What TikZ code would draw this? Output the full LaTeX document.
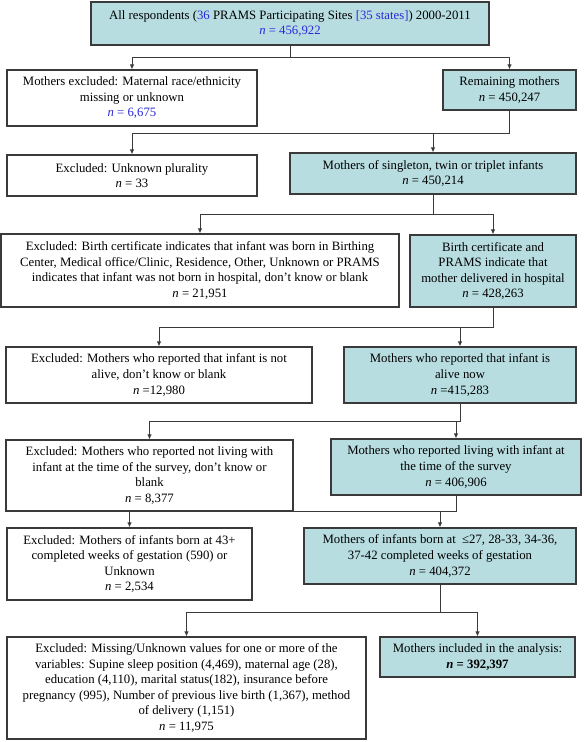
\documentclass[tikz,border=0pt]{standalone}
\usepackage{fontspec}
\setmainfont{Liberation Serif}
\usetikzlibrary{arrows.meta,calc}
\definecolor{keepteal}{HTML}{B7DDE1}
\definecolor{edgegray}{HTML}{3A3A3A}
\definecolor{siteblue}{HTML}{2A2AD8}
\tikzset{
  >=Latex,
  box/.style={
    rectangle, draw=edgegray, line width=1.1bp, inner sep=2bp,
    align=center, text=black,
    font=\fontsize{12.8}{15.6}\selectfont
  },
  keep/.style={box, fill=keepteal},
  link/.style={line width=1bp, draw=edgegray},
  arrow/.style={link, -{Latex[length=5bp,width=4.5bp]}}
}
\newcommand{\nn}{\textit{n}}
% one step of the flow: drop from #1, then split to #3 and #4
\newcommand{\branch}[4]{
  \coordinate (#1-j) at ($(#1.south)+(0,#2)$);
  \draw[link] (#1.south) -- (#1-j);
  \draw[arrow] (#1-j) -| (#3);
  \draw[arrow] (#1-j) -| (#4);
}

\begin{document}
\begin{tikzpicture}[x=1bp,y=-1bp]
\useasboundingbox (0,0) rectangle (584,742);
\node[keep, minimum width=398bp, minimum height=43bp] (all) at (290,23.5)
  {All respondents (\textcolor{siteblue}{36} PRAMS Participating Sites \textcolor{siteblue}{[35 states]}) 2000-2011\\
   \textcolor{siteblue}{\nn{} = 456,922}};
\node[box, minimum width=250bp, minimum height=56bp] (exrace) at (132,98)
  {Mothers excluded: Maternal race/ethnicity\\missing or unknown\\\textcolor{siteblue}{\nn{} = 6,675}};
\node[keep, minimum width=133bp, minimum height=40bp] (remain) at (509.5,90)
  {Remaining mothers\\\nn{} = 450,247};
\node[box, minimum width=250bp, minimum height=41bp] (explur) at (132,175.5)
  {Excluded: Unknown plurality\\\nn{} = 33};
\node[keep, minimum width=286bp, minimum height=41bp] (single) at (433,173.5)
  {Mothers of singleton, twin or triplet infants\\\nn{} = 450,214};
\node[box, minimum width=398bp, minimum height=73bp] (exbirth) at (200,270.5)
  {Excluded: Birth certificate indicates that infant was born in Birthing\\
   Center, Medical office/Clinic, Residence, Other, Unknown or PRAMS\\
   indicates that infant was not born in hospital, don’t know or blank\\
   \nn{} = 21,951};
\node[keep, minimum width=166bp, minimum height=72bp] (hosp) at (493,271)
  {Birth certificate and\\PRAMS indicate that\\mother delivered in hospital\\\nn{} = 428,263};
\node[box, minimum width=306bp, minimum height=56bp] (exalive) at (159,375)
  {Excluded: Mothers who reported that infant is not\\alive, don’t know or blank\\\nn{} =12,980};
\node[keep, minimum width=232bp, minimum height=56bp] (alive) at (460,375)
  {Mothers who reported that infant is\\alive now\\\nn{} =415,283};
\node[box, minimum width=287bp, minimum height=71bp] (exliving) at (149.5,475.5)
  {Excluded: Mothers who reported not living with\\infant at the time of the survey, don’t know or\\blank\\\nn{} = 8,377};
\node[keep, minimum width=250bp, minimum height=56bp] (living) at (456,467)
  {Mothers who reported living with infant at\\the time of the survey\\\nn{} = 406,906};
\node[box, minimum width=245bp, minimum height=72bp] (exgest) at (129.5,564)
  {Excluded: Mothers of infants born at 43+\\completed weeks of gestation (590) or\\Unknown\\\nn{} = 2,534};
\node[keep, minimum width=272bp, minimum height=56bp] (gest) at (440,556)
  {Mothers of infants born at \ ≤27, 28-33, 34-36,\\37-42 completed weeks of gestation\\\nn{} = 404,372};
\node[box, minimum width=359bp, minimum height=102bp] (exmiss) at (186.5,688)
  {Excluded: Missing/Unknown values for one or more of the\\
   variables: Supine sleep position (4,469), maternal age (28),\\
   education (4,110), marital status(182), insurance before\\
   pregnancy (995), Number of previous live birth (1,367), method\\
   of delivery (1,151)\\
   \nn{} = 11,975};
\node[keep, minimum width=195bp, minimum height=40bp] (final) at (477.5,657)
  {Mothers included in the analysis:\\\textbf{\nn{} = 392,397}};
\branch{all}{12}{exrace}{remain}
\branch{remain}{23}{explur}{single}
\branch{single}{20}{exbirth}{hosp}
\branch{hosp}{20}{exalive}{alive}
\branch{alive}{18}{exliving}{living}
\branch{living}{16}{exgest}{gest}
\branch{gest}{28}{exmiss}{final}
\end{tikzpicture}
\end{document}
